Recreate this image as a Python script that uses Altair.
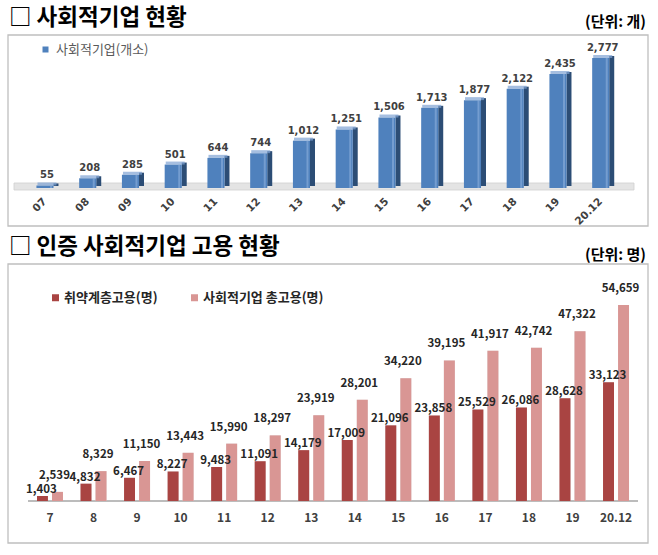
import altair as alt
import pandas as pd

# ---- texts ----
TITLE_TOP = "□ 사회적기업 현황"
UNIT_TOP = "(단위: 개)"
TITLE_BOTTOM = "□ 인증 사회적기업 고용 현황"
UNIT_BOTTOM = "(단위: 명)"
TOP_SERIES = "사회적기업(개소)"
SERIES_BOTTOM = ["취약계층고용(명)", "사회적기업 총고용(명)"]

# ---- data ----
years_top = ["07", "08", "09", "10", "11", "12", "13", "14", "15", "16", "17", "18", "19", "20.12"]
enterprises = [55, 208, 285, 501, 644, 744, 1012, 1251, 1506, 1713, 1877, 2122, 2435, 2777]

years_bottom = ["7", "8", "9", "10", "11", "12", "13", "14", "15", "16", "17", "18", "19", "20.12"]
vulnerable = [1403, 4832, 6467, 8227, 9483, 11091, 14179, 17009, 21096, 23858, 25529, 26086, 28628, 33123]
total = [2539, 8329, 11150, 13443, 15990, 18297, 23919, 28201, 34220, 39195, 41917, 42742, 47322, 54659]

KR = "Noto Sans CJK KR"
BLUE = "#4F81BD"
BLUE_SIDE = "#2C4D75"
BLUE_TOP = "#7FA3D3"
RED_DARK = "#A94442"
RED_LIGHT = "#D99694"

top_df = pd.DataFrame({"year": years_top, "value": enterprises, "series": TOP_SERIES})
bot_df = pd.DataFrame({
    "year": years_bottom * 2,
    "value": vulnerable + total,
    "series": [SERIES_BOTTOM[0]] * len(years_bottom) + [SERIES_BOTTOM[1]] * len(years_bottom),
})
one = pd.DataFrame({"k": [0]})


def deco_text(txt, x, y, size, align="left", weight="bold", color="#000000"):
    return alt.Chart(one).mark_text(
        text=txt, align=align, baseline="middle", fontSize=size,
        fontWeight=weight, font=KR, color=color
    ).encode(x=alt.value(x), y=alt.value(y))


def frame(x1, y1, x2, y2):
    return alt.Chart(one).mark_rect(
        fill="white", stroke="#BFBFBF", strokeWidth=1.3
    ).encode(x=alt.value(x1), x2=alt.value(x2), y=alt.value(y1), y2=alt.value(y2))


# ---------------- top chart ----------------
x_top = alt.X("year:N", sort=years_top,
              scale=alt.Scale(domain=years_top, range=[23.6, 622.1], paddingInner=0.6, paddingOuter=0.3),
              axis=None)
y_top = alt.Y("value:Q",
              scale=alt.Scale(domain=[0, max(enterprises)], range=[188, 58], nice=False, zero=True),
              axis=None)

base_top = alt.Chart(top_df)

side_top = base_top.mark_bar(width=5, xOffset=11, yOffset=-2, color=BLUE_SIDE).encode(x=x_top, y=y_top)
bars_top = base_top.mark_bar().encode(
    x=x_top, y=y_top,
    color=alt.Color("series:N", scale=alt.Scale(domain=[TOP_SERIES], range=[BLUE]),
                    legend=alt.Legend(orient="none", legendX=39, legendY=43, title=None,
                                      symbolType="square", symbolSize=36, symbolStrokeWidth=0,
                                      labelFont=KR, labelFontSize=13, labelColor="#595959",
                                      labelOffset=4, padding=0)),
)
hl_top = base_top.mark_bar(width=2, xOffset=6, color="#8DB0DC", opacity=0.6).encode(x=x_top, y=y_top)
cap_top = base_top.mark_tick(orient="horizontal", thickness=3, size=19, xOffset=2, yOffset=-1.5,
                             color=BLUE_TOP).encode(x=x_top, y=y_top)
labels_top = base_top.mark_text(baseline="bottom", dy=-5, xOffset=2, fontSize=10, fontWeight="bold",
                                font="DejaVu Sans", color="#404040").encode(
    x=x_top, y=y_top, text=alt.Text("value:Q", format=","))
cats_top = base_top.mark_text(angle=315, align="right", baseline="middle", fontSize=10.5,
                              fontWeight="bold", font="DejaVu Sans", color="#404040").encode(
    x=x_top, y=alt.value(200), text="year:N")

top_layer = alt.layer(side_top, bars_top, hl_top, cap_top, labels_top, cats_top)

floor_top = alt.Chart(one).mark_rect(fill="#E4E4E4", stroke="#CFCFCF", strokeWidth=0.8).encode(
    x=alt.value(14), x2=alt.value(634), y=alt.value(183), y2=alt.value(190))

# ---------------- bottom chart ----------------
x_bot = alt.X("year:N", sort=years_bottom,
              scale=alt.Scale(domain=years_bottom, range=[28.2, 637.8], paddingInner=0.403, paddingOuter=0.2015),
              axis=None)
xo_bot = alt.XOffset("series:N", sort=SERIES_BOTTOM,
                     scale=alt.Scale(domain=SERIES_BOTTOM, paddingInner=0.27, paddingOuter=0))
y_bot = alt.Y("value:Q",
              scale=alt.Scale(domain=[0, max(total)], range=[501, 305], nice=False, zero=True),
              axis=None)

base_bot = alt.Chart(bot_df)
shadow_bot = base_bot.mark_bar(xOffset=2, color="#DADADA", opacity=0.8).encode(
    x=x_bot, xOffset=xo_bot, y=y_bot)
bars_bot = base_bot.mark_bar().encode(
    x=x_bot, xOffset=xo_bot, y=y_bot,
    color=alt.Color("series:N", sort=SERIES_BOTTOM,
                    scale=alt.Scale(domain=SERIES_BOTTOM, range=[RED_DARK, RED_LIGHT]),
                    legend=alt.Legend(orient="none", legendX=49, legendY=291, title=None,
                                      direction="horizontal", symbolType="square", symbolSize=49,
                                      symbolStrokeWidth=0, labelFont=KR, labelFontSize=13,
                                      labelFontWeight="bold", labelColor="#262626",
                                      labelOffset=2, columnPadding=30, padding=0)),
)
labels_dark = base_bot.transform_filter(alt.datum.series == SERIES_BOTTOM[0]).mark_text(
    baseline="bottom", dy=-1, dx=-1, fontSize=11.5, fontWeight="bold", font=KR, color="#262626").encode(
    x=x_bot, xOffset=xo_bot, y=y_bot, text=alt.Text("value:Q", format=","))
labels_light = base_bot.transform_filter(alt.datum.series == SERIES_BOTTOM[1]).mark_text(
    baseline="bottom", dy=-11, dx=-3, fontSize=11.5, fontWeight="bold", font=KR, color="#262626").encode(
    x=x_bot, xOffset=xo_bot, y=y_bot, text=alt.Text("value:Q", format=","))
cats_bot = alt.Chart(pd.DataFrame({"year": years_bottom})).mark_text(
    baseline="middle", fontSize=12, fontWeight="bold", font=KR, color="#404040").encode(
    x=x_bot, y=alt.value(518), text="year:N")

bottom_layer = alt.layer(shadow_bot, bars_bot, labels_dark, labels_light, cats_bot)

axis_bot = alt.Chart(one).mark_rule(color="#A6A6A6", strokeWidth=1.5).encode(
    x=alt.value(28), x2=alt.value(638), y=alt.value(501))

chart = alt.layer(
    frame(8, 35, 648, 226),
    frame(8, 264, 648, 543),
    deco_text(TITLE_TOP, 9, 18, 22.5),
    deco_text(UNIT_TOP, 646, 22, 15, align="right"),
    deco_text(TITLE_BOTTOM, 9, 247, 22.5),
    deco_text(UNIT_BOTTOM, 646, 255, 15, align="right"),
    floor_top,
    top_layer,
    axis_bot,
    bottom_layer,
).resolve_scale(
    x="independent", y="independent", color="independent", xOffset="independent"
).properties(
    width=658, height=555, padding=0, autosize="none"
).configure_view(stroke=None)

chart.save("out.html", embed_options={"renderer": "svg", "actions": False})
